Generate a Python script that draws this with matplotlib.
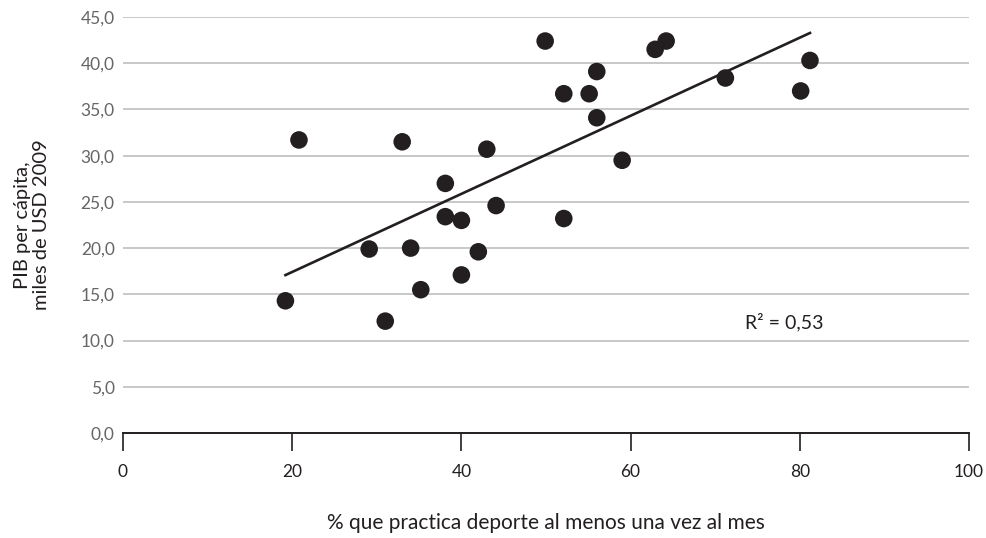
import matplotlib
matplotlib.use("Agg")
import matplotlib.pyplot as plt
import numpy as np

# % que practica deporte al menos una vez al mes
sport_pct = [19.2, 20.8, 29.1, 31.0, 33.0, 34.0, 35.2, 38.1, 38.1, 40.0, 40.0, 42.0, 43.0,
             44.1, 49.9, 52.1, 52.1, 55.1, 56.0, 56.0, 59.0, 62.9, 64.2, 71.2, 80.1, 81.2]
# PIB per cápita, miles de USD 2009
gdp = [14.3, 31.7, 19.9, 12.1, 31.5, 20.0, 15.5, 27.0, 23.4, 23.0, 17.1, 19.6, 30.7,
       24.6, 42.4, 36.7, 23.2, 36.7, 39.1, 34.1, 29.5, 41.5, 42.4, 38.4, 37.0, 40.3]

x_ticks = [0, 20, 40, 60, 80, 100]
y_ticks = [0, 5, 10, 15, 20, 25, 30, 35, 40, 45]
r2_label = "R² = 0,53"

plt.rcParams['font.family'] = ['Lato', 'DejaVu Sans']
dark = '#231f20'

fig = plt.figure(figsize=(9.87, 5.38), dpi=100)
ax = fig.add_axes([0.1246, 0.1952, 0.8572, 0.7732])

# trend line from least squares fit
slope, icpt = np.polyfit(sport_pct, gdp, 1)
xs = np.array([min(sport_pct), max(sport_pct)])
ax.plot(xs, slope * xs + icpt, color=dark, lw=1.9, zorder=3)

ax.scatter(sport_pct, gdp, s=160, color=dark, edgecolors='none', zorder=4)

ax.set_xlim(0, 100)
ax.set_ylim(0, 45)
ax.set_xticks(x_ticks)
ax.set_xticklabels([str(v) for v in x_ticks])
ax.set_yticks(y_ticks)
ax.set_yticklabels([f"{v:.1f}".replace('.', ',') for v in y_ticks])

ax.grid(axis='y', color='#c8c8c8', lw=1.4)
ax.set_axisbelow(True)
for s in ['top', 'right', 'left']:
    ax.spines[s].set_visible(False)
ax.spines['bottom'].set_color(dark)
ax.spines['bottom'].set_linewidth(1.4)
ax.spines['bottom'].set_zorder(5)

ax.tick_params(axis='x', direction='out', length=13, width=1.2, color=dark,
               labelsize=12.5, labelcolor=dark, pad=9)
ax.tick_params(axis='y', length=0, labelsize=12.5, labelcolor='#666666', pad=6)

ax.text(73.5, 12.0, r2_label, fontsize=14, color=dark, va='center', ha='left')

ax.set_ylabel("PIB per cápita,\nmiles de USD 2009", fontsize=14.5, color=dark,
              labelpad=22, linespacing=1.15)
ax.set_xlabel("% que practica deporte al menos una vez al mes", fontsize=15,
              color=dark, labelpad=24)

fig.savefig("out.png", dpi=100)
